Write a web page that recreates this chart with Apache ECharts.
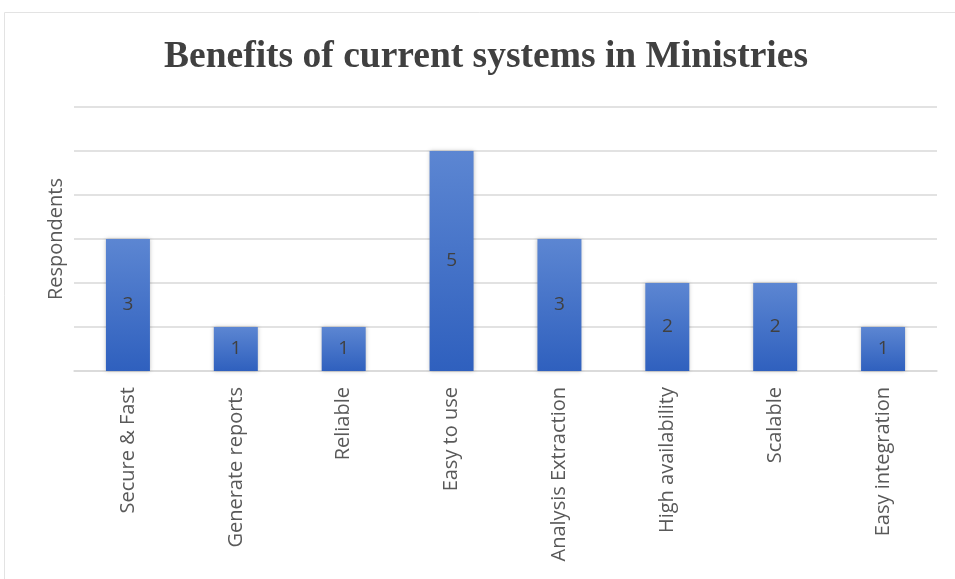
<!DOCTYPE html>
<html>
<head>
<meta charset="utf-8">
<script src="https://cdn.jsdelivr.net/npm/echarts@6/dist/echarts.min.js"></script>
<style>
  html, body { margin: 0; padding: 0; background: #ffffff; }
  #chart { width: 955px; height: 579px; }
</style>
</head>
<body>
<div id="chart"></div>
<script>
// Survey answers: how many respondents named each benefit
const categories = [
  'Secure & Fast', 'Generate reports', 'Reliable', 'Easy to use',
  'Analysis Extraction', 'High availability', 'Scalable', 'Easy integration'
];
const respondents = [3, 1, 1, 5, 3, 2, 2, 1];
const chartTitle = 'Benefits of current systems in Ministries';
const yAxisName = 'Respondents';

const chart = echarts.init(document.getElementById('chart'), null, { renderer: 'canvas' });

const barFill = new echarts.graphic.LinearGradient(0, 0, 0, 1, [
  { offset: 0, color: '#5c86d2' },
  { offset: 1, color: '#2f60be' }
]);

const sans = '"Open Sans", "Noto Sans", sans-serif';

chart.setOption({
  backgroundColor: '#ffffff',
  animation: false,
  graphic: [
    {
      // thin frame along the left and top edges
      type: 'polyline',
      shape: { points: [[4.5, 579], [4.5, 12.5], [955, 12.5]] },
      style: { stroke: '#e3e3e3', lineWidth: 1, fill: null },
      silent: true
    }
  ],
  title: {
    text: chartTitle,
    left: 159,
    top: 33,
    textStyle: {
      fontFamily: '"Liberation Serif", "Times New Roman", serif',
      fontWeight: 'bold',
      fontSize: 37.5,
      color: '#404040'
    }
  },
  grid: {
    left: 74,
    right: 18,
    top: 107,
    bottom: 208,
    containLabel: false
  },
  xAxis: {
    type: 'category',
    data: categories,
    axisLine: { lineStyle: { color: '#d9d9d9', width: 1.5 } },
    axisTick: { show: false },
    axisLabel: {
      rotate: 90,
      interval: 0,
      margin: 16,
      fontFamily: sans,
      fontSize: 20,
      color: '#595959'
    }
  },
  yAxis: {
    type: 'value',
    min: 0,
    max: 6,
    interval: 1,
    name: yAxisName,
    nameLocation: 'middle',
    nameGap: 8,
    nameRotate: 90,
    nameTextStyle: {
      fontFamily: sans,
      fontSize: 20,
      color: '#595959'
    },
    axisLine: { show: false },
    axisTick: { show: false },
    axisLabel: { show: false },
    splitLine: { lineStyle: { color: '#d9d9d9', width: 1.5 } }
  },
  series: [
    {
      type: 'bar',
      data: respondents,
      barWidth: 44,
      itemStyle: {
        color: barFill,
        shadowColor: 'rgba(0,0,0,0.25)',
        shadowBlur: 4
      },
      label: {
        show: true,
        position: 'inside',
        fontFamily: sans,
        fontSize: 19,
        color: '#404040'
      }
    }
  ]
});
</script>
</body>
</html>
